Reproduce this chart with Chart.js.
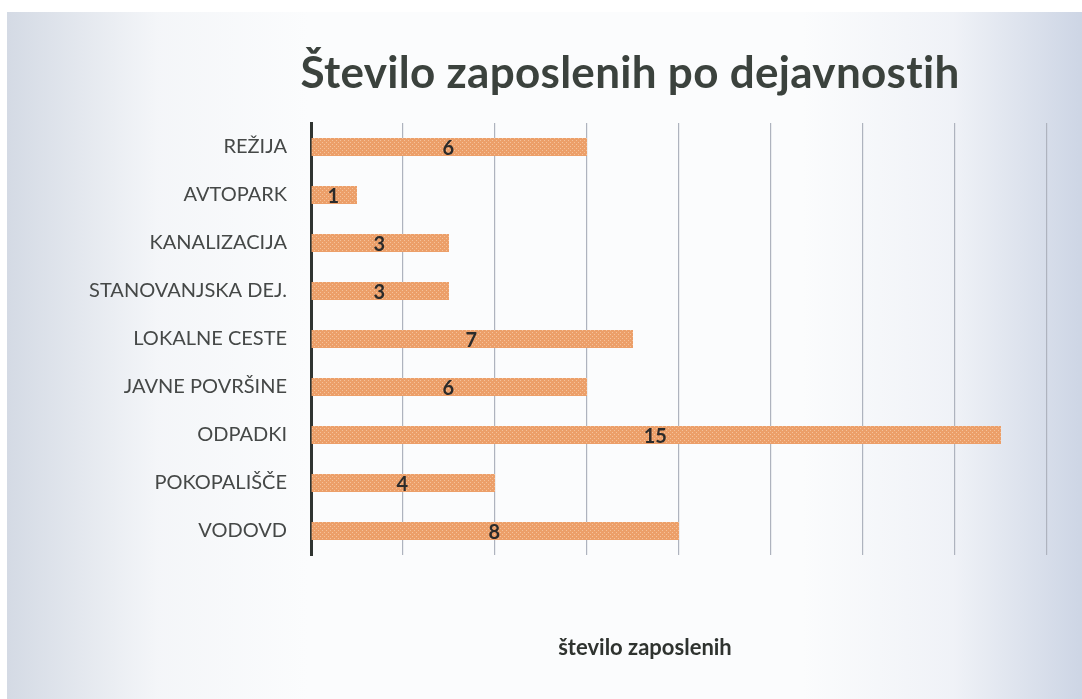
<!DOCTYPE html>
<html>
<head>
<meta charset="utf-8">
<script src="https://cdn.jsdelivr.net/npm/chart.js@4"></script>
<style>
  html, body { margin: 0; padding: 0; background: #ffffff; }
  .frame {
    position: absolute; left: 7px; top: 12px; width: 1075px; height: 687px;
    background:
      linear-gradient(to right, rgba(205,212,224,0.85) 0%, rgba(235,238,243,0.45) 14%, rgba(255,255,255,0) 28%, rgba(255,255,255,0) 74%, rgba(228,232,241,0.5) 88%, rgba(200,209,226,0.9) 100%),
      #fbfcfd;
  }
  .wrap { position: absolute; left: 0; top: 0; width: 1082px; height: 699px; }
  h1 {
    position: absolute; left: 0; top: 45px; width: 1260px; margin: 0;
    text-align: center; font-family: Lato, "Open Sans", sans-serif; font-weight: bold;
    font-size: 44px; color: #3b423d; letter-spacing: 0.3px;
  }
  .xtitle {
    position: absolute; left: 0; top: 633px; width: 1290px; margin: 0;
    text-align: center; font-family: Lato, "Open Sans", sans-serif; font-weight: bold;
    font-size: 22px; color: #2f332f;
  }
</style>
</head>
<body>
<div class="frame"></div>
<div class="wrap">
  <h1>Število zaposlenih po dejavnostih</h1>
  <canvas id="myChart" width="1082" height="699"></canvas>
  <div class="xtitle" id="xTitle"></div>
</div>
<script>
const categories = ["REŽIJA", "AVTOPARK", "KANALIZACIJA", "STANOVANJSKA DEJ.", "LOKALNE CESTE", "JAVNE POVRŠINE", "ODPADKI", "POKOPALIŠČE", "VODOVD"];
const employees = [6, 1, 3, 3, 7, 6, 15, 4, 8];
const axisTitle = "število zaposlenih";

const myChart = document.querySelector("#myChart");
document.querySelector("#xTitle").textContent = axisTitle;

// dotted orange fill like the scanned bars
function barPattern() {
    const c = document.createElement("canvas");
    c.width = 4;
    c.height = 4;
    const g = c.getContext("2d");
    g.fillStyle = "#ec9f69";
    g.fillRect(0, 0, 4, 4);
    g.fillStyle = "#f5c29a";
    g.fillRect(0, 0, 1, 1);
    g.fillRect(2, 2, 1, 1);
    return g.createPattern(c, "repeat");
}

// value labels in the middle of each bar
const barLabels = {
    id: "barLabels",
    afterDatasetsDraw(chart) {
        const ctx = chart.ctx;
        const meta = chart.getDatasetMeta(0);
        ctx.save();
        ctx.font = "bold 20px Lato, 'Open Sans', sans-serif";
        ctx.fillStyle = "#2b2b2b";
        ctx.textAlign = "center";
        ctx.textBaseline = "middle";
        meta.data.forEach((bar, i) => {
            ctx.fillText(employees[i], (bar.x + bar.base) / 2 - 1, bar.y + 2);
        });
        ctx.restore();
    }
};

new Chart(myChart, {
    type: "bar",
    data: {
        labels: categories,
        datasets: [{
            data: employees,
            backgroundColor: barPattern(),
            borderWidth: 0,
            categoryPercentage: 1,
            barPercentage: 0.38
        }]
    },
    options: {
        indexAxis: "y",
        responsive: false,
        animation: false,
        layout: { padding: { top: 123, right: 35, left: 0, bottom: 0 } },
        plugins: {
            legend: { display: false },
            tooltip: { enabled: false }
        },
        scales: {
            x: {
                min: 0,
                max: 16,
                ticks: { display: false, stepSize: 2 },
                grid: {
                    color: "#aeb3be",
                    lineWidth: 1.2,
                    drawTicks: false
                },
                border: { display: false },
                afterFit(scale) { scale.height = 144; }
            },
            y: {
                grid: { display: false, drawTicks: false },
                border: { display: true, color: "#2f3431", width: 3 },
                ticks: {
                    color: "#454847",
                    padding: 24,
                    font: { family: "Lato, 'Open Sans', sans-serif", size: 20 }
                },
                afterFit(scale) { scale.width = 311; }
            }
        }
    },
    plugins: [barLabels]
});
</script>
</body>
</html>
